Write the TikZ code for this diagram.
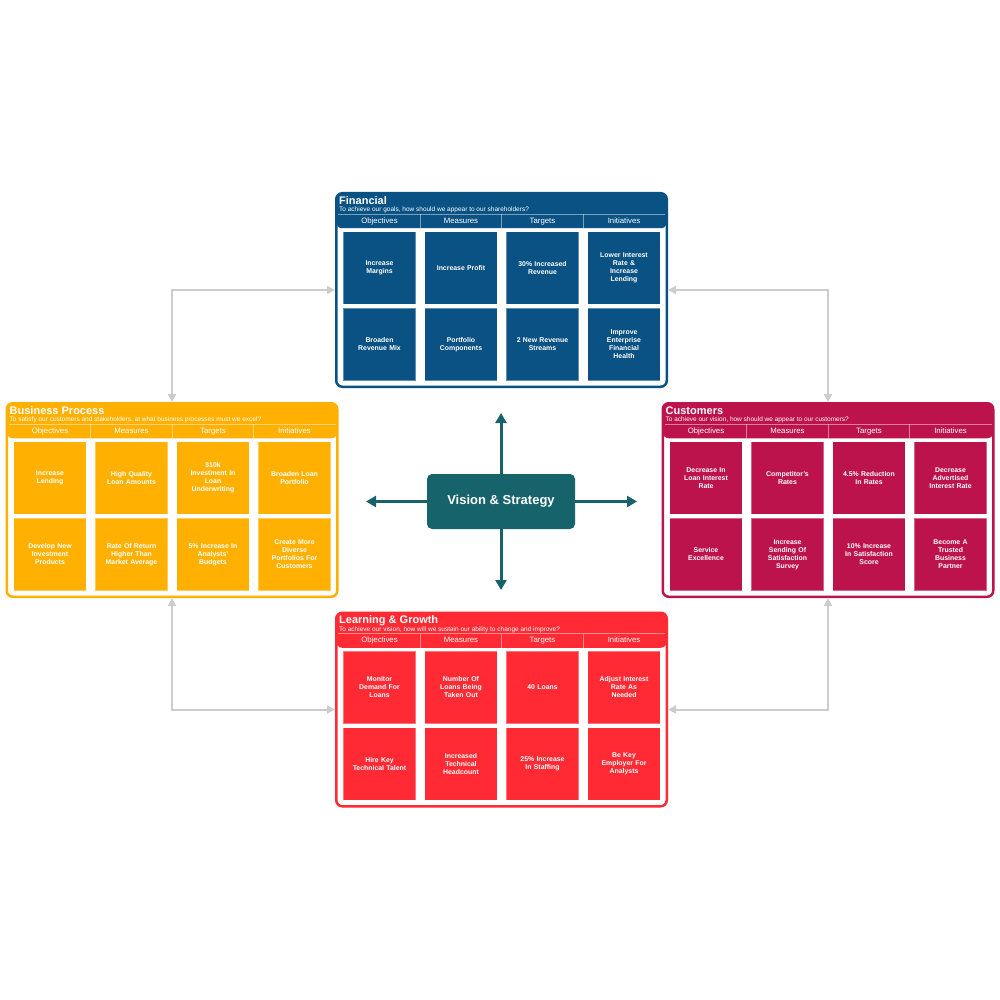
\documentclass[tikz,border=0pt]{standalone}
\usepackage{fontspec}
\setmainfont{Liberation Sans}
\usepackage{xcolor}
\usepackage{tikz}
\usetikzlibrary{arrows.meta, positioning, calc}

\definecolor{fincol}{HTML}{0A5283}
\definecolor{bpcol}{HTML}{FFB000}
\definecolor{cuscol}{HTML}{BD134C}
\definecolor{lgcol}{HTML}{FF2A33}
\definecolor{vscol}{HTML}{17636B}
\definecolor{linkcol}{HTML}{CCCCCC}

\begin{document}
\begin{tikzpicture}[
    x=1pt, y=-1pt,
    panel/.style={draw=#1, fill=white, line width=2.5pt, rounded corners=6pt, minimum width=330.5pt, minimum height=193.5pt, inner sep=0pt,
      path picture={\fill[#1] (path picture bounding box.north west) rectangle ([yshift=-35pt]path picture bounding box.north east);}},
    ptitle/.style={anchor=west, inner sep=0pt, text=white, font=\bfseries\fontsize{11}{12}\selectfont},
    psub/.style={anchor=west, inner sep=0pt, text=white, font=\fontsize{6.5}{7}\selectfont},
    colhead/.style={inner sep=0pt, text height=5.6pt, text depth=1.6pt, text=white, font=\fontsize{7.8}{9}\selectfont},
    sepline/.style={draw=white, draw opacity=0.45, line width=0.8pt},
    card/.style={fill=#1, draw=white, draw opacity=0.35, line width=0.6pt, minimum width=72.5pt, minimum height=72.5pt, text width=66pt, inner sep=2pt, align=center, text=white, font=\bfseries\fontsize{6.9}{8}\selectfont},
    vsbox/.style={fill=vscol, rounded corners=5pt, minimum width=148pt, minimum height=55pt, text=white, font=\bfseries\fontsize{13}{15}\selectfont},
    vsarrow/.style={draw=vscol, line width=3pt, -{Triangle[width=11pt,length=10pt]}},
    link/.style={draw=linkcol, line width=2pt, {Triangle[width=8pt,length=8pt]}-{Triangle[width=8pt,length=8pt]}}
  ]
  \useasboundingbox (0,0) rectangle (1000,1000);

  % Financial
  \node[panel=fincol] (fin) at (501.5,290) {};
  \node[ptitle] (fin-title) at ($(fin.north west)+(4,9)$) {Financial};
  \node[psub] (fin-sub) at ($(fin.north west)+(4,18)$) {To achieve our goals, how should we appear to our shareholders?};
  \draw[sepline] ($(fin.north west)+(3,22)$) -- ($(fin.north east)+(-3,22)$);
  \foreach \i in {1,2,3}
    \draw[sepline] ($(fin.north west)+({3.75+81.5*\i},22)$) -- ++(0,14);
  \foreach \h [count=\i from 0] in {Objectives,Measures,Targets,Initiatives}
    \node[colhead] (fin-h\i) at ($(fin.north west)+({44.5+81.5*\i},29)$) {\h};
  \foreach \t [count=\k from 0] in {{Increase\\Margins},{Increase Profit},{30\% Increased\\Revenue},{Lower Interest\\Rate \&\\Increase\\Lending},
      {Broaden\\Revenue Mix},{Portfolio\\Components},{2 New Revenue\\Streams},{Improve\\Enterprise\\Financial\\Health}}
    \node[card=fincol] (fin-\k) at ($(fin.north west)+({44.5+81.5*mod(\k,4)},{76+76.5*int(\k/4)})$) {\t};

  % Business Process
  \node[panel=bpcol] (bp) at (172,500) {};
  \node[ptitle] (bp-title) at ($(bp.north west)+(4,9)$) {Business Process};
  \node[psub] (bp-sub) at ($(bp.north west)+(4,18)$) {To satisfy our customers and stakeholders, at what business processes must we excel?};
  \draw[sepline] ($(bp.north west)+(3,22)$) -- ($(bp.north east)+(-3,22)$);
  \foreach \i in {1,2,3}
    \draw[sepline] ($(bp.north west)+({3.75+81.5*\i},22)$) -- ++(0,14);
  \foreach \h [count=\i from 0] in {Objectives,Measures,Targets,Initiatives}
    \node[colhead] (bp-h\i) at ($(bp.north west)+({44.5+81.5*\i},29)$) {\h};
  \foreach \t [count=\k from 0] in {{Increase\\Lending},{High Quality\\Loan Amounts},{\$10k\\Investment In\\Loan\\Underwriting},{Broaden Loan\\Portfolio},
      {Develop New\\Investment\\Products},{Rate Of Return\\Higher Than\\Market Average},{5\% Increase In\\Analysts'\\Budgets},{Create More\\Diverse\\Portfolios For\\Customers}}
    \node[card=bpcol] (bp-\k) at ($(bp.north west)+({44.5+81.5*mod(\k,4)},{76+76.5*int(\k/4)})$) {\t};

  % Customers
  \node[panel=cuscol] (cus) at (828,500) {};
  \node[ptitle] (cus-title) at ($(cus.north west)+(4,9)$) {Customers};
  \node[psub] (cus-sub) at ($(cus.north west)+(4,18)$) {To achieve our vision, how should we appear to our customers?};
  \draw[sepline] ($(cus.north west)+(3,22)$) -- ($(cus.north east)+(-3,22)$);
  \foreach \i in {1,2,3}
    \draw[sepline] ($(cus.north west)+({3.75+81.5*\i},22)$) -- ++(0,14);
  \foreach \h [count=\i from 0] in {Objectives,Measures,Targets,Initiatives}
    \node[colhead] (cus-h\i) at ($(cus.north west)+({44.5+81.5*\i},29)$) {\h};
  \foreach \t [count=\k from 0] in {{Decrease In\\Loan Interest\\Rate},{Competitor's\\Rates},{4.5\% Reduction\\In Rates},{Decrease\\Advertised\\Interest Rate},
      {Service\\Excellence},{Increase\\Sending Of\\Satisfaction\\Survey},{10\% Increase\\In Satisfaction\\Score},{Become A\\Trusted\\Business\\Partner}}
    \node[card=cuscol] (cus-\k) at ($(cus.north west)+({44.5+81.5*mod(\k,4)},{76+76.5*int(\k/4)})$) {\t};

  % Learning & Growth
  \node[panel=lgcol] (lg) at (501.5,709.5) {};
  \node[ptitle] (lg-title) at ($(lg.north west)+(4,9)$) {Learning \& Growth};
  \node[psub] (lg-sub) at ($(lg.north west)+(4,18)$) {To achieve our vision, how will we sustain our ability to change and improve?};
  \draw[sepline] ($(lg.north west)+(3,22)$) -- ($(lg.north east)+(-3,22)$);
  \foreach \i in {1,2,3}
    \draw[sepline] ($(lg.north west)+({3.75+81.5*\i},22)$) -- ++(0,14);
  \foreach \h [count=\i from 0] in {Objectives,Measures,Targets,Initiatives}
    \node[colhead] (lg-h\i) at ($(lg.north west)+({44.5+81.5*\i},29)$) {\h};
  \foreach \t [count=\k from 0] in {{Monitor\\Demand For\\Loans},{Number Of\\Loans Being\\Taken Out},{40 Loans},{Adjust Interest\\Rate As\\Needed},
      {Hire Key\\Technical Talent},{Increased\\Technical\\Headcount},{25\% Increase\\In Staffing},{Be Key\\Employer For\\Analysts}}
    \node[card=lgcol] (lg-\k) at ($(lg.north west)+({44.5+81.5*mod(\k,4)},{76+76.5*int(\k/4)})$) {\t};

  % Vision & Strategy
  \node[vsbox] (vs) at (501,501.5) {Vision \& Strategy};
  \coordinate (vs-n) at (501,413);
  \coordinate (vs-s) at (501,590);
  \coordinate (vs-w) at (366,501.5);
  \coordinate (vs-e) at (637,501.5);
  \draw[vsarrow] (vs.north) -- (vs-n);
  \draw[vsarrow] (vs.south) -- (vs-s);
  \draw[vsarrow] (vs.west) -- (vs-w);
  \draw[vsarrow] (vs.east) -- (vs-e);

  % Connections
  \draw[link] (fin.west) -| (bp.north);
  \draw[link] (fin.east) -| (cus.north);
  \draw[link] (bp.south) |- (lg.west);
  \draw[link] (cus.south) |- (lg.east);
\end{tikzpicture}
\end{document}
